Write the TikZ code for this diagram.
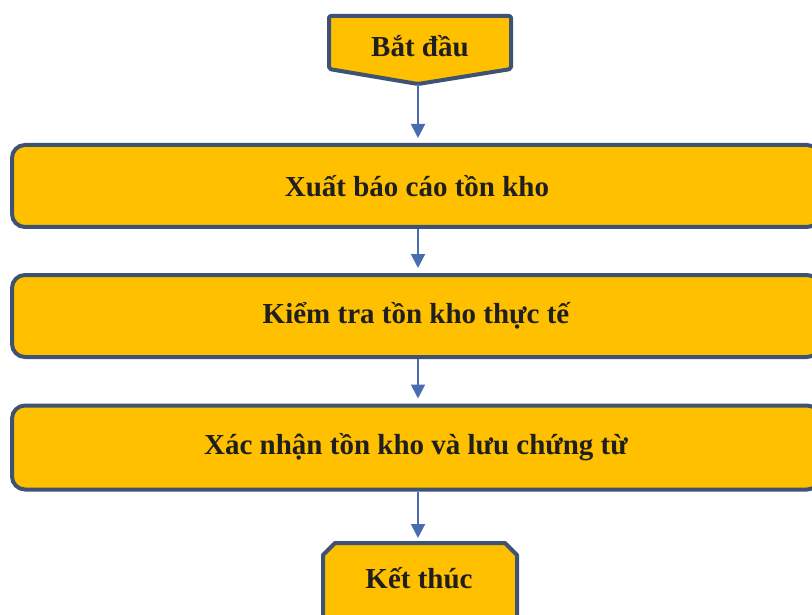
\documentclass[tikz,border=0pt]{standalone}
\usepackage{fontspec}
\setmainfont{Liberation Serif}
\usetikzlibrary{arrows.meta}
\definecolor{boxfill}{HTML}{FFC000}
\definecolor{boxline}{HTML}{3E5373}
\definecolor{flow}{HTML}{4A6DB0}
\begin{document}
\begin{tikzpicture}[x=1pt,y=-1pt,
  labeltext/.style={font=\bfseries\fontsize{29}{34}\selectfont, text=black!88},
  stepbox/.style={draw=boxline, fill=boxfill, line width=4pt, rounded corners=13pt,
    minimum width=808pt, minimum height=82pt, inner sep=0pt, labeltext},
  terminal/.style={draw=boxline, fill=boxfill, line width=4pt, line join=round},
  flowarrow/.style={draw=flow, line width=2pt, shorten >=5pt,
    -{Triangle[width=14pt,length=14pt]}}]
\useasboundingbox (0,0) rectangle (812,615);
\begin{scope}
\clip (0,0) rectangle (812,615);

% start terminal: pentagon pointing down
\draw[terminal, rounded corners=2pt] (329,16) -- (511,16) -- (511,69) -- (418,84) -- (329,69) -- cycle;
\node[labeltext] (start) at (420,46) {Bắt đầu};
\coordinate (startTip) at (418,84);

% process steps (their right ends run past the page edge)
\node[stepbox] (s1) at (416,186) {\hspace*{2pt}Xuất báo cáo tồn kho};
\node[stepbox] (s2) at (416,316) {Kiểm tra tồn kho thực tế};
\node[stepbox, minimum height=84pt] (s3) at (416,447.5) {Xác nhận tồn kho và lưu chứng từ};

% end terminal: chamfered box running off the bottom
\draw[terminal] (323,640) -- (323,555) -- (335,543) -- (505,543) -- (517,555) -- (517,640) -- cycle;
\node[labeltext] (finish) at (419,578) {Kết thúc};
\coordinate (finishTop) at (418,543);

% flow connectors
\draw[flowarrow] (startTip) -- (startTip |- s1.north);
\draw[flowarrow] (startTip |- s1.south) -- (startTip |- s2.north);
\draw[flowarrow] (startTip |- s2.south) -- (startTip |- s3.north);
\draw[flowarrow] (startTip |- s3.south) -- (finishTop);
\end{scope}
\end{tikzpicture}
\end{document}
